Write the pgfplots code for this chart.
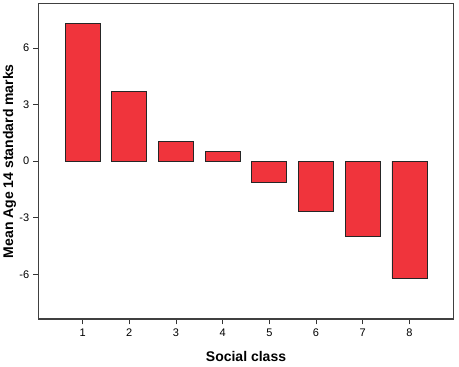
\documentclass[border=0pt]{standalone}
\usepackage{pgfplots}
\pgfplotsset{compat=1.18}
\usepackage{fontspec}
\setmainfont{Liberation Sans}
\definecolor{barred}{RGB}{240,52,60}
\begin{document}
\begin{tikzpicture}
\begin{axis}[name=ax, scale only axis, width=414.6pt, height=315.7pt,
  xmin=0.06, xmax=8.94, ymin=-8.37, ymax=8.37,
  xtick={1,2,3,4,5,6,7,8}, ytick={-6,-3,0,3,6},
  tick align=outside, xtick pos=bottom, ytick pos=left,
  major tick length=5.5pt,
  tick style={black!80, line width=0.8pt},
  axis line style={black!75, line width=1.1pt},
  tick label style={font=\fontsize{11}{13}\selectfont},
  /pgf/number format/assume math mode=true,
  xticklabel style={yshift=-1pt},
  yticklabel style={xshift=-0.5pt},
  ybar, bar width=35pt,
  xlabel={\bfseries Social class},
  ylabel={\bfseries Mean Age 14 standard marks},
  xlabel style={at={(axis description cs:0.5,0)}, anchor=center, yshift=-37.5pt, font=\fontsize{14}{16}\selectfont},
  ylabel style={at={(axis description cs:0,0.5)}, rotate=0, anchor=center, yshift=29.2pt, font=\fontsize{14}{16}\selectfont},
]
\addplot[fill=barred, draw=black!85, line width=0.8pt] coordinates {
  (1,7.31) (2,3.71) (3,1.04) (4,0.51) (5,-1.13) (6,-2.69) (7,-4.01) (8,-6.20)
};
\end{axis}
\pgfresetboundingbox
\path[use as bounding box] ([xshift=-38.7pt,yshift=-48pt]ax.south west) rectangle ([xshift=5.7pt,yshift=3.3pt]ax.north east);
\end{tikzpicture}
\end{document}
